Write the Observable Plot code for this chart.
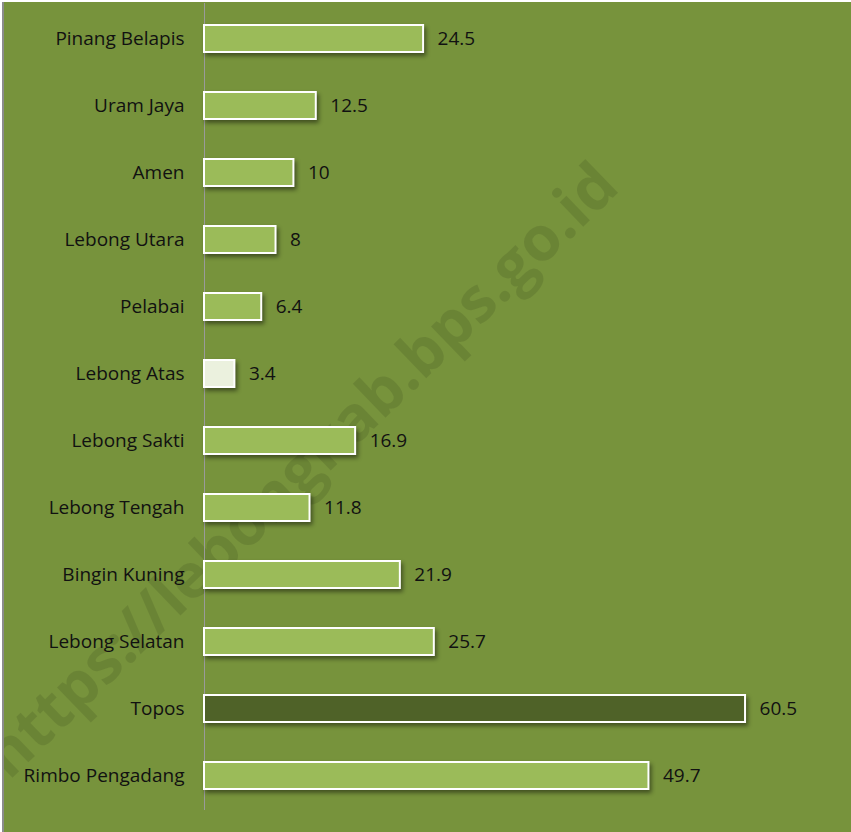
<!DOCTYPE html>
<html>
<head>
<meta charset="utf-8">
<script src="https://cdn.jsdelivr.net/npm/d3@7"></script>
<script src="https://cdn.jsdelivr.net/npm/@observablehq/plot@0.6"></script>
<style>
  html, body { margin: 0; padding: 0; background: #ffffff; }
  #chart svg {
    display: block;
    margin: 2px 0 0 2px;
    border-left: 2px solid #8c8c8c;
    background: #77933C;
  }
  #chart g[aria-label="bar"] rect {
    filter: drop-shadow(2px 3px 2px rgba(0,0,0,0.45));
  }
</style>
</head>
<body>
<div id="chart"></div>
<script>
const categories = [
  "Pinang Belapis", "Uram Jaya", "Amen", "Lebong Utara", "Pelabai",
  "Lebong Atas", "Lebong Sakti", "Lebong Tengah", "Bingin Kuning",
  "Lebong Selatan", "Topos", "Rimbo Pengadang"
];
const values = [24.5, 12.5, 10, 8, 6.4, 3.4, 16.9, 11.8, 21.9, 25.7, 60.5, 49.7];
const watermark = "https://lebongkab.bps.go.id";

const data = categories.map((name, i) => ({ name, value: values[i] }));

const fillFor = d => d.name === "Topos" ? "#4F6228"
  : d.name === "Lebong Atas" ? "#EBF1DE" : "#9BBB59";

const font = "'Open Sans', Lato, sans-serif";

const plot = Plot.plot({
  width: 847,
  height: 830,
  marginLeft: 200,
  marginRight: 21,
  marginTop: 1,
  marginBottom: 22,
  style: { background: "#77933C", fontFamily: font, fontSize: "19px", color: "#111" },
  x: { domain: [0, 70], axis: null },
  y: { domain: categories, paddingInner: 0.6, paddingOuter: 0.3, label: null },
  marks: [
    Plot.text([watermark], {
      frameAnchor: "middle",
      dx: -216, dy: 64,
      rotate: -44,
      fontSize: 62,
      fontWeight: "bold",
      fontFamily: "'Open Sans', 'Liberation Sans', sans-serif",
      fill: "#000",
      fillOpacity: 0.1
    }),
    Plot.ruleX([0], { stroke: "#9a9a9a", strokeWidth: 1 }),
    Plot.barX(data, {
      x: "value", y: "name",
      fill: fillFor,
      stroke: "#ffffff", strokeWidth: 2
    }),
    Plot.text(data, {
      x: "value", y: "name",
      text: d => String(d.value),
      textAnchor: "start", dx: 14,
      fill: "#111", fontSize: 19
    }),
    Plot.axisY({ tickSize: 0, tickPadding: 20, label: null, fill: "#111", fontSize: 19 })
  ]
});
document.getElementById("chart").appendChild(plot);
</script>
</body>
</html>
